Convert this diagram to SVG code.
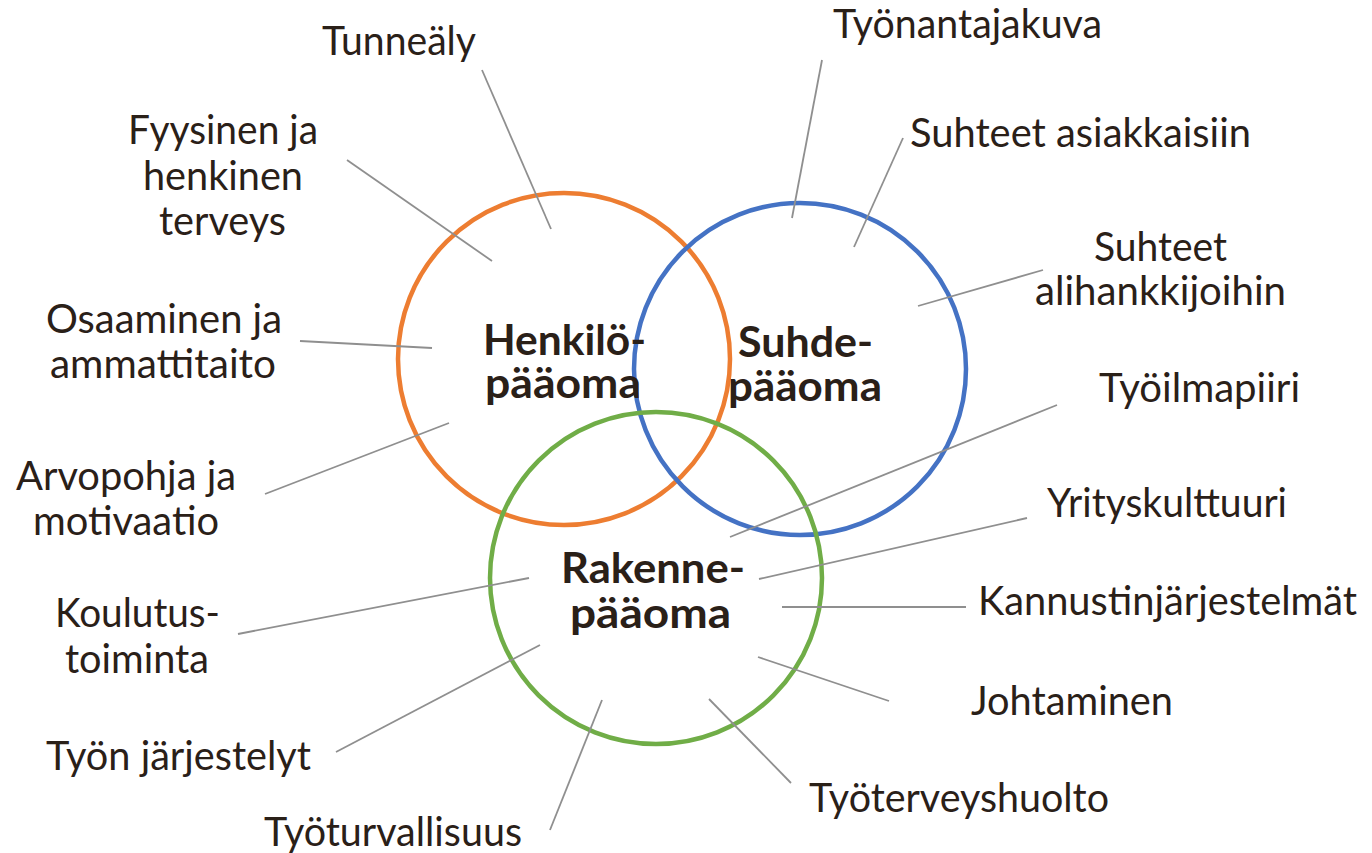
<svg xmlns="http://www.w3.org/2000/svg" width="1372" height="853" viewBox="0 0 1372 853">
<style>
.c{fill:none;stroke-width:4.5}
.l{stroke:#8f8f8f;stroke-width:1.8;fill:none}
text{font-family:Lato,"Open Sans","Liberation Sans",sans-serif;fill:#2a2018}
.t{font-size:40px}
.b{font-size:42px;font-weight:bold}
</style>
<rect width="1372" height="853" fill="#ffffff"/>
<g id="henkilo">
<circle class="c" cx="564" cy="359" r="166" stroke="#ED7D31"/>
</g>
<g id="suhde">
<circle class="c" cx="800" cy="369" r="166" stroke="#4472C4"/>
</g>
<g id="rakenne">
<circle class="c" cx="656" cy="578" r="166" stroke="#70AD47"/>
</g>
<g id="connectors">
<line class="l" x1="482" y1="70" x2="551" y2="229"/>
<line class="l" x1="347" y1="160" x2="492" y2="261"/>
<line class="l" x1="300" y1="341" x2="432" y2="348"/>
<line class="l" x1="265" y1="494" x2="449" y2="423"/>
<line class="l" x1="238" y1="634" x2="529" y2="578"/>
<line class="l" x1="336" y1="752" x2="540" y2="645"/>
<line class="l" x1="550" y1="830" x2="602" y2="700"/>
<line class="l" x1="822" y1="60" x2="792" y2="218"/>
<line class="l" x1="903" y1="138" x2="854" y2="247"/>
<line class="l" x1="1043" y1="270" x2="918" y2="306"/>
<line class="l" x1="1057" y1="405" x2="730" y2="537"/>
<line class="l" x1="1027" y1="518" x2="759" y2="579"/>
<line class="l" x1="966" y1="607" x2="782" y2="607"/>
<line class="l" x1="889" y1="701" x2="758" y2="657"/>
<line class="l" x1="791" y1="783" x2="709" y2="699"/>
</g>
<g id="labels-center">
<text class="b" x="483" y="355" textLength="163" lengthAdjust="spacingAndGlyphs">Henkilö-</text>
<text class="b" x="485" y="398" textLength="156" lengthAdjust="spacingAndGlyphs">pääoma</text>
<text class="b" x="738" y="357" textLength="135" lengthAdjust="spacingAndGlyphs">Suhde-</text>
<text class="b" x="728" y="401" textLength="154" lengthAdjust="spacingAndGlyphs">pääoma</text>
<text class="b" x="561" y="583" textLength="184" lengthAdjust="spacingAndGlyphs">Rakenne-</text>
<text class="b" x="570" y="628" textLength="161" lengthAdjust="spacingAndGlyphs">pääoma</text>
</g>
<g id="label-tunnealy"><text class="t" x="322" y="55" textLength="154" lengthAdjust="spacingAndGlyphs">Tunneäly</text></g>
<g id="label-fyysinen">
<text class="t" x="128" y="144" textLength="190" lengthAdjust="spacingAndGlyphs">Fyysinen ja</text>
<text class="t" x="143" y="190" textLength="160" lengthAdjust="spacingAndGlyphs">henkinen</text>
<text class="t" x="159" y="235" textLength="127" lengthAdjust="spacingAndGlyphs">terveys</text>
</g>
<g id="label-osaaminen">
<text class="t" x="46" y="333" textLength="236" lengthAdjust="spacingAndGlyphs">Osaaminen ja</text>
<text class="t" x="50" y="378" textLength="226" lengthAdjust="spacingAndGlyphs">ammattitaito</text>
</g>
<g id="label-arvopohja">
<text class="t" x="16" y="490" textLength="220" lengthAdjust="spacingAndGlyphs">Arvopohja ja</text>
<text class="t" x="33" y="535" textLength="186" lengthAdjust="spacingAndGlyphs">motivaatio</text>
</g>
<g id="label-koulutus">
<text class="t" x="55" y="627" textLength="165" lengthAdjust="spacingAndGlyphs">Koulutus-</text>
<text class="t" x="65" y="673" textLength="144" lengthAdjust="spacingAndGlyphs">toiminta</text>
</g>
<g id="label-tyon"><text class="t" x="46" y="770" textLength="265" lengthAdjust="spacingAndGlyphs">Työn järjestelyt</text></g>
<g id="label-tyoturvallisuus"><text class="t" x="264" y="846" textLength="258" lengthAdjust="spacingAndGlyphs">Työturvallisuus</text></g>
<g id="label-tyonantajakuva"><text class="t" x="833" y="38" textLength="269" lengthAdjust="spacingAndGlyphs">Työnantajakuva</text></g>
<g id="label-asiakkaat"><text class="t" x="910" y="147" textLength="341" lengthAdjust="spacingAndGlyphs">Suhteet asiakkaisiin</text></g>
<g id="label-alihankkijat">
<text class="t" x="1094" y="261" textLength="133" lengthAdjust="spacingAndGlyphs">Suhteet</text>
<text class="t" x="1035" y="305" textLength="251" lengthAdjust="spacingAndGlyphs">alihankkijoihin</text>
</g>
<g id="label-tyoilmapiiri"><text class="t" x="1099" y="402" textLength="201" lengthAdjust="spacingAndGlyphs">Työilmapiiri</text></g>
<g id="label-yrityskulttuuri"><text class="t" x="1047" y="517" textLength="240" lengthAdjust="spacingAndGlyphs">Yrityskulttuuri</text></g>
<g id="label-kannustin"><text class="t" x="978" y="615" textLength="379" lengthAdjust="spacingAndGlyphs">Kannustinjärjestelmät</text></g>
<g id="label-johtaminen"><text class="t" x="971" y="715" textLength="202" lengthAdjust="spacingAndGlyphs">Johtaminen</text></g>
<g id="label-tyoterveys"><text class="t" x="809" y="812" textLength="300" lengthAdjust="spacingAndGlyphs">Työterveyshuolto</text></g>
</svg>
